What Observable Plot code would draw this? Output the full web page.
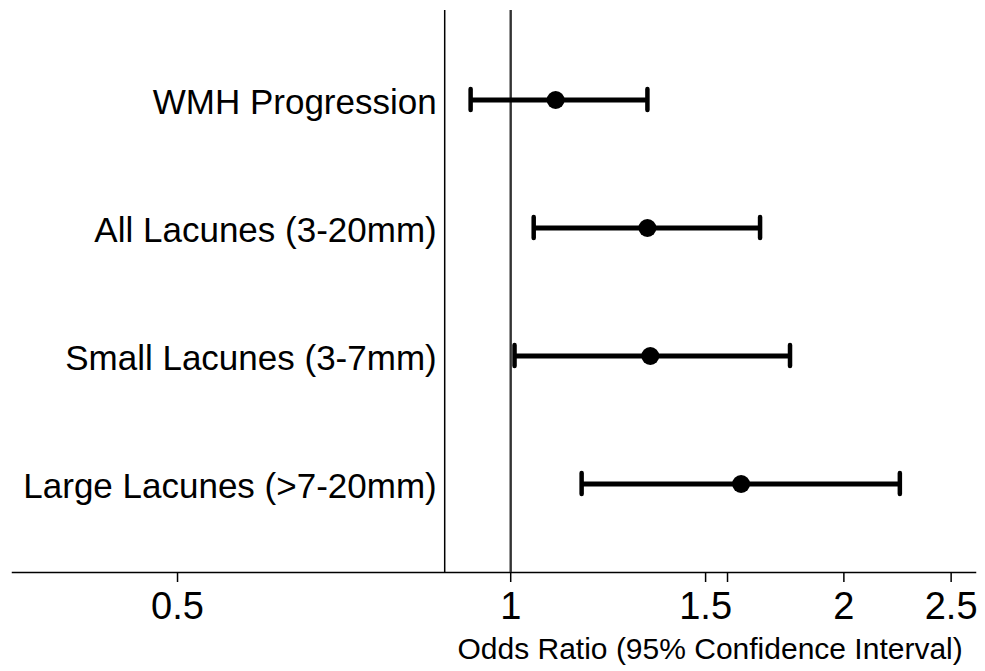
<!DOCTYPE html>
<html>
<head>
<meta charset="utf-8">
<script src="https://cdn.jsdelivr.net/npm/d3@7"></script>
<script src="https://cdn.jsdelivr.net/npm/@observablehq/plot@0.6"></script>
<style>
  html, body { margin: 0; padding: 0; background: #fff; }
  svg { display: block; }
</style>
</head>
<body>
<div id="chart"></div>
<script>
// ---- data ----
const outcomes = ["WMH Progression", "All Lacunes (3-20mm)", "Small Lacunes (3-7mm)", "Large Lacunes (>7-20mm)"];
const oddsRatio = [1.098, 1.329, 1.337, 1.615];
const ciLower   = [0.920, 1.049, 1.008, 1.159];
const ciUpper   = [1.329, 1.680, 1.788, 2.247];
const xTicks = [0.5, 1, 1.5, 2, 2.5];
const xTickLabels = ["0.5", "1", "1.5", "2", "2.5"];
const xMinorTicks = [1.57];
const xTitle = "Odds Ratio (95% Confidence Interval)";
const refValue = 1;

// layout constants
const xDomain = [0.3547, 2.630];
const paneEdge = 0.8717; // left border of the estimate pane (x units)
const font = "'Liberation Sans', Arial, Helvetica, sans-serif";

const rows = outcomes.map((o, i) => ({outcome: o, or: oddsRatio[i], lo: ciLower[i], hi: ciUpper[i]}));
const titleX = Math.sqrt(paneEdge * xDomain[1]);

const chart = Plot.plot({
  width: 985,
  height: 671,
  marginLeft: 12,
  marginRight: 10,
  marginTop: 10,
  marginBottom: 99,
  style: {fontFamily: font, background: "#fff", color: "#000"},
  x: {type: "log", domain: xDomain},
  y: {type: "band", domain: outcomes, paddingInner: 0.836, paddingOuter: 0.613, axis: null},
  marks: [
    Plot.frame({anchor: "bottom", stroke: "#000", strokeWidth: 1.5}),
    Plot.axisX({ticks: xTicks, tickFormat: (d) => xTickLabels[xTicks.indexOf(d)], tickSize: 10, tickPadding: 10,
      fontSize: 38, stroke: "#000", strokeWidth: 1.5, label: null, strokeOpacity: 1}),
    Plot.axisX({ticks: xMinorTicks, tickFormat: () => "", tickSize: 10, stroke: "#000", strokeWidth: 1.5, label: null}),
    Plot.ruleX([paneEdge], {stroke: "#000", strokeWidth: 1.5}),
    Plot.ruleX([refValue], {stroke: "#333", strokeWidth: 2.4}),
    Plot.ruleY(rows, {y: "outcome", x1: "lo", x2: "hi", stroke: "#000", strokeWidth: 5}),
    Plot.tickX(rows, {y: "outcome", x: "lo", stroke: "#000", strokeWidth: 4.5, strokeLinecap: "round"}),
    Plot.tickX(rows, {y: "outcome", x: "hi", stroke: "#000", strokeWidth: 4.5, strokeLinecap: "round"}),
    Plot.dot(rows, {y: "outcome", x: "or", r: 9, fill: "#000", stroke: null}),
    Plot.text(rows, {y: "outcome", x: () => paneEdge, text: "outcome", textAnchor: "end", dx: -8, dy: 3,
      fontSize: 35, fill: "#000"}),
    Plot.text([xTitle], {x: () => titleX, frameAnchor: "bottom", lineAnchor: "middle", dy: 77, text: (d) => d,
      fontSize: 30, fill: "#000"})
  ]
});
document.getElementById("chart").appendChild(chart);
</script>
</body>
</html>
